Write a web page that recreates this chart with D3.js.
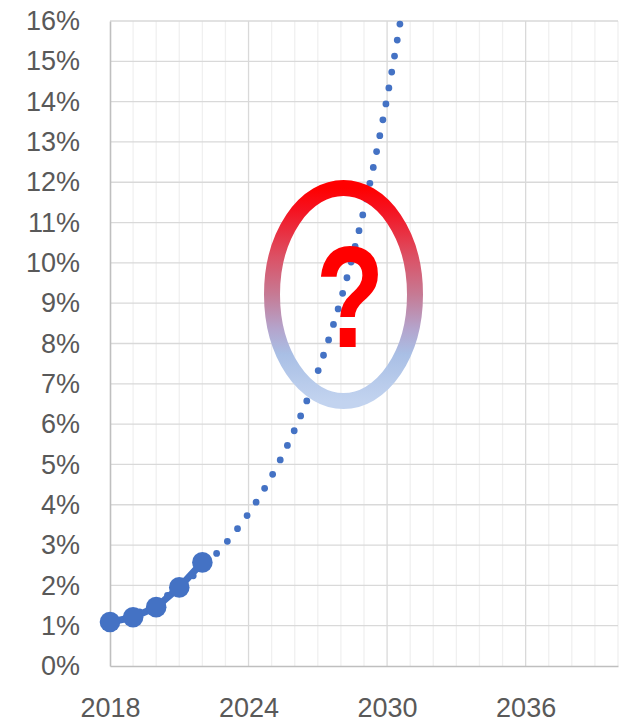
<!DOCTYPE html>
<html>
<head>
<meta charset="utf-8">
<script src="https://cdn.jsdelivr.net/npm/d3@7"></script>
<style>
  body { margin: 0; background: #fff; }
  svg { display: block; }
  text { font-family: "Liberation Sans", Arial, sans-serif; }
</style>
</head>
<body>
<svg width="630" height="724"></svg>
<script>
// actual values (percent)
const years = [2018, 2019, 2020, 2021, 2022]
const share = [1.09, 1.21, 1.46, 1.95, 2.57]

const xTicks = [2018, 2024, 2030, 2036]
const yTicks = [0, 1, 2, 3, 4, 5, 6, 7, 8, 9, 10, 11, 12, 13, 14, 15, 16]

const blue = "#4472C4"

const svg = d3.select("svg")
const plotL = 110, plotR = 618, plotT = 21, plotB = 666

const x = d3.scaleLinear().domain([2018, 2040]).range([plotL, plotR])
const y = d3.scaleLinear().domain([0, 16]).range([plotB, plotT])

// gridlines
const grid = svg.append("g")
grid.selectAll(".vminor")
  .data(d3.range(2019, 2041))
  .enter().append("line")
    .attr("x1", d => x(d)).attr("x2", d => x(d))
    .attr("y1", plotT).attr("y2", plotB)
    .attr("stroke", d => (d - 2018) % 6 === 0 ? "#d9d9d9" : "#f0f0f0")
    .attr("stroke-width", 1.3)

grid.selectAll(".h")
  .data(yTicks.slice(1))
  .enter().append("line")
    .attr("x1", plotL).attr("x2", plotR)
    .attr("y1", d => y(d)).attr("y2", d => y(d))
    .attr("stroke", "#d9d9d9")
    .attr("stroke-width", 1.3)

// axes
svg.append("g")
  .attr("transform", `translate(${plotL},0)`)
  .call(d3.axisLeft(y).tickValues(yTicks).tickSize(0).tickPadding(30).tickFormat(d => d + "%"))
svg.append("g")
  .attr("transform", `translate(0,${plotB})`)
  .call(d3.axisBottom(x).tickValues(xTicks).tickSize(0).tickPadding(32).tickFormat(d3.format("d")))

svg.selectAll(".domain").attr("stroke", "#bfbfbf").attr("stroke-width", 1.6)
svg.selectAll(".tick text")
  .attr("font-family", "'Liberation Sans', Arial, sans-serif")
  .attr("font-size", 27)
  .attr("fill", "#595959")

// exponential trendline fitted to the actual values (least squares on ln y)
const ts = years.map(d => d - 2018)
const lns = share.map(d => Math.log(d))
const mt = d3.mean(ts), ml = d3.mean(lns)
const b = d3.sum(ts, (t, i) => (t - mt) * (lns[i] - ml)) / d3.sum(ts, t => (t - mt) * (t - mt))
const a = Math.exp(ml - b * mt)
const tEnd = Math.log(16 / a) / b

const trendPts = d3.range(0, tEnd, 0.02).concat([tEnd]).map(t => [2018 + t, a * Math.exp(b * t)])

const line = d3.line().x(d => x(d[0])).y(d => y(d[1]))

svg.append("path")
  .datum(trendPts)
  .attr("fill", "none")
  .attr("stroke", blue)
  .attr("stroke-width", 6.8)
  .attr("stroke-linecap", "round")
  .attr("stroke-dasharray", "0 16.2")
  .attr("d", line)

// actual series
const actual = years.map((d, i) => [d, share[i]])
svg.append("path")
  .datum(actual)
  .attr("fill", "none")
  .attr("stroke", blue)
  .attr("stroke-width", 7)
  .attr("stroke-linejoin", "round")
  .attr("d", line)

svg.selectAll(".pt")
  .data(actual)
  .enter().append("circle")
    .attr("cx", d => x(d[0]))
    .attr("cy", d => y(d[1]))
    .attr("r", 10.3)
    .attr("fill", blue)

// question ring
const defs = svg.append("defs")
const grad = defs.append("linearGradient")
  .attr("id", "ring")
  .attr("x1", 0).attr("y1", 0).attr("x2", 0).attr("y2", 1)
const stops = [[0, "#ff0000"], [0.1, "#f5111f"], [0.32, "#dc5064"], [0.5, "#c67a94"], [0.66, "#b4a4cc"], [0.78, "#a9bfe5"], [1, "#c2d3ef"]]
grad.selectAll("stop")
  .data(stops)
  .enter().append("stop")
    .attr("offset", d => d[0])
    .attr("stop-color", d => d[1])

svg.append("ellipse")
  .attr("cx", 343.5).attr("cy", 294.5)
  .attr("rx", 71.5).attr("ry", 106.5)
  .attr("fill", "none")
  .attr("stroke", "url(#ring)")
  .attr("stroke-width", 16)

svg.append("text")
  .attr("transform", "translate(350,347) scale(0.78,1)")
  .attr("text-anchor", "middle")
  .attr("font-family", "'Liberation Sans', Arial, sans-serif")
  .attr("font-weight", "bold")
  .attr("font-size", 144)
  .attr("fill", "#ff0000")
  .text("?")
</script>
</body>
</html>
